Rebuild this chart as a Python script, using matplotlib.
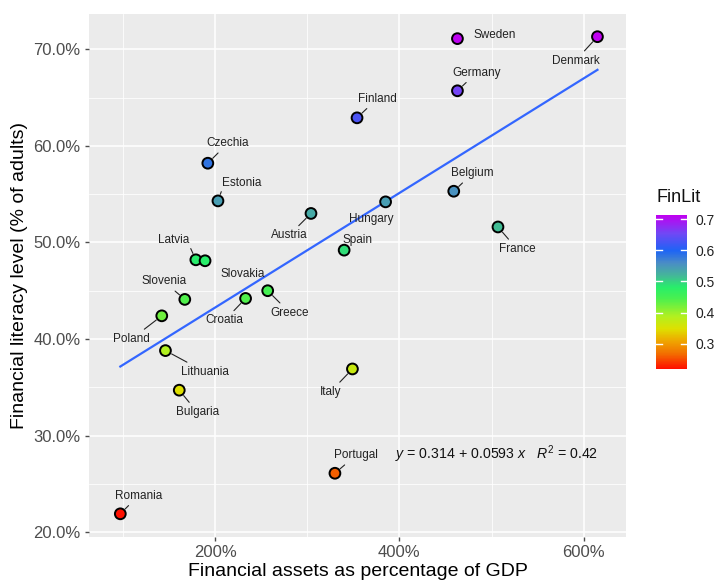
import matplotlib
matplotlib.use("Agg")
import matplotlib.pyplot as plt
import numpy as np
from matplotlib.colors import LinearSegmentedColormap, Normalize
from matplotlib.ticker import PercentFormatter, FixedLocator
from matplotlib.colorbar import ColorbarBase

plt.rcParams["font.family"] = ["Liberation Sans", "DejaVu Sans"]
plt.rcParams["mathtext.fontset"] = "custom"
plt.rcParams["mathtext.rm"] = "Liberation Sans"
plt.rcParams["mathtext.it"] = "Liberation Sans:italic"

# Data: financial assets (ratio to GDP) and financial literacy (share of adults)
countries = ["Sweden", "Denmark", "Germany", "Finland", "Belgium", "Hungary",
             "France", "Spain", "Czechia", "Estonia", "Austria", "Latvia",
             "Slovakia", "Slovenia", "Croatia", "Greece", "Poland", "Lithuania",
             "Bulgaria", "Romania", "Italy", "Portugal"]
assets = [4.63, 6.15, 4.63, 3.54, 4.59, 3.85,
          5.07, 3.40, 1.92, 2.03, 3.04, 1.79,
          1.89, 1.67, 2.33, 2.57, 1.42, 1.46,
          1.61, 0.97, 3.49, 3.30]
finlit = [0.711, 0.713, 0.657, 0.629, 0.553, 0.542,
          0.516, 0.492, 0.582, 0.543, 0.530, 0.482,
          0.481, 0.441, 0.442, 0.450, 0.424, 0.388,
          0.347, 0.219, 0.369, 0.261]

intercept = 0.314
slope = 0.0593
r_squared = 0.42

# Label placement: pixel offset from the point, leader line on/off, line anchor on the label box
label_offsets = {
    "Sweden": (37, 4, False, None), "Denmark": (-22, -24, True, None),
    "Germany": (19, 18, True, None), "Finland": (20, 19, True, None),
    "Belgium": (19, 18, True, None), "Hungary": (-14, -17, False, None),
    "France": (19, -22, True, None), "Spain": (13, 10, False, None),
    "Czechia": (20, 20, True, None), "Estonia": (24, 18, True, (0.0, 0.0)),
    "Austria": (-22, -22, True, None), "Latvia": (-22, 20, True, (1.0, 0.0)),
    "Slovakia": (38, -13, False, None), "Slovenia": (-21, 18, True, None),
    "Croatia": (-21, -22, True, None), "Greece": (22, -22, True, None),
    "Poland": (-30, -23, True, None), "Lithuania": (39, -21, True, None),
    "Bulgaria": (18, -22, True, None), "Romania": (18, 18, True, None),
    "Italy": (-22, -23, True, None), "Portugal": (21, 18, True, None),
}

x = np.array(assets)
y = np.array(finlit)

cmap = LinearSegmentedColormap.from_list("finlit", [
    (0.00, "#FF1000"), (0.10, "#F27000"), (0.18, "#EFA500"), (0.26, "#DEE000"),
    (0.34, "#B2F020"), (0.46, "#48F050"), (0.53, "#28EE6A"), (0.61, "#45B59A"),
    (0.69, "#4A8CC6"), (0.77, "#1E64F5"), (0.88, "#7048F5"), (1.00, "#C000F0")])
norm = Normalize(vmin=y.min(), vmax=y.max())

fig = plt.figure(figsize=(7.2, 5.87), dpi=100)
ax = fig.add_axes([89 / 720, 50 / 587, 537 / 720, 523 / 587])
ax.set_facecolor("#EBEBEB")
for s in ax.spines.values():
    s.set_visible(False)

ax.set_xlim(0.63, 6.46)
ax.set_ylim(0.195, 0.7365)
ax.xaxis.set_major_locator(FixedLocator([2, 4, 6]))
ax.xaxis.set_minor_locator(FixedLocator([1, 3, 5]))
ax.yaxis.set_major_locator(FixedLocator([0.2, 0.3, 0.4, 0.5, 0.6, 0.7]))
ax.yaxis.set_minor_locator(FixedLocator([0.25, 0.35, 0.45, 0.55, 0.65]))
ax.xaxis.set_major_formatter(PercentFormatter(xmax=1, decimals=0))
ax.yaxis.set_major_formatter(PercentFormatter(xmax=1, decimals=1))
ax.grid(which="major", color="white", linewidth=1.1)
ax.grid(which="minor", color="white", linewidth=0.55)
ax.set_axisbelow(True)
ax.tick_params(which="major", length=3, width=1, color="#4D4D4D",
               labelsize=12, labelcolor="#4D4D4D", pad=3)
ax.tick_params(which="minor", length=0)

ax.set_xlabel("Financial assets as percentage of GDP", fontsize=14, labelpad=2)
ax.set_ylabel("Financial literacy level (% of adults)", fontsize=14, labelpad=4)

# Fitted regression line
xs = np.linspace(x.min(), x.max(), 50)
ax.plot(xs, intercept + slope * xs, color="#3366FF", linewidth=1.6, zorder=2)

ax.scatter(x, y, c=y, cmap=cmap, norm=norm, s=60, edgecolors="black",
           linewidths=1.4, zorder=3)

for name, xi, yi in zip(countries, x, y):
    dx, dy, seg, rel = label_offsets[name]
    arrow = None
    if seg:
        arrow = dict(arrowstyle="-", color="#222222", lw=0.8, shrinkA=1, shrinkB=5)
        if rel is not None:
            arrow["relpos"] = rel
            arrow["shrinkA"] = 0
    ax.annotate(name, (xi, yi), xytext=(dx, dy), textcoords="offset pixels",
                ha="center", va="center", fontsize=8.5, color="#222222",
                arrowprops=arrow, zorder=2.5)

equation = (r"$y$ = " + f"{intercept:.3f} + {slope:.4f}" + r" $x$   $R^2$ = "
            + f"{r_squared:.2f}")
ax.text(0.759, 0.159, equation, transform=ax.transAxes, ha="center", va="center",
        fontsize=10.2, color="#111111")

# Colour bar legend
cax = fig.add_axes([656 / 720, (587 - 369) / 587, 31 / 720, 154 / 587])
cb = ColorbarBase(cax, cmap=cmap, norm=norm, orientation="vertical")
cb.outline.set_visible(False)
cb.set_ticks([0.3, 0.4, 0.5, 0.6, 0.7])
cb.ax.tick_params(length=0, labelsize=10, labelcolor="#222222", pad=6)
for t in [0.3, 0.4, 0.5, 0.6, 0.7]:
    cax.plot([0, 0.2], [t, t], color="white", lw=1, transform=cax.get_yaxis_transform())
    cax.plot([0.8, 1.0], [t, t], color="white", lw=1, transform=cax.get_yaxis_transform())
fig.text(656 / 720, (587 - 197) / 587, "FinLit", fontsize=13, ha="left", va="center",
         color="#111111")

fig.savefig("out.png", dpi=100)
